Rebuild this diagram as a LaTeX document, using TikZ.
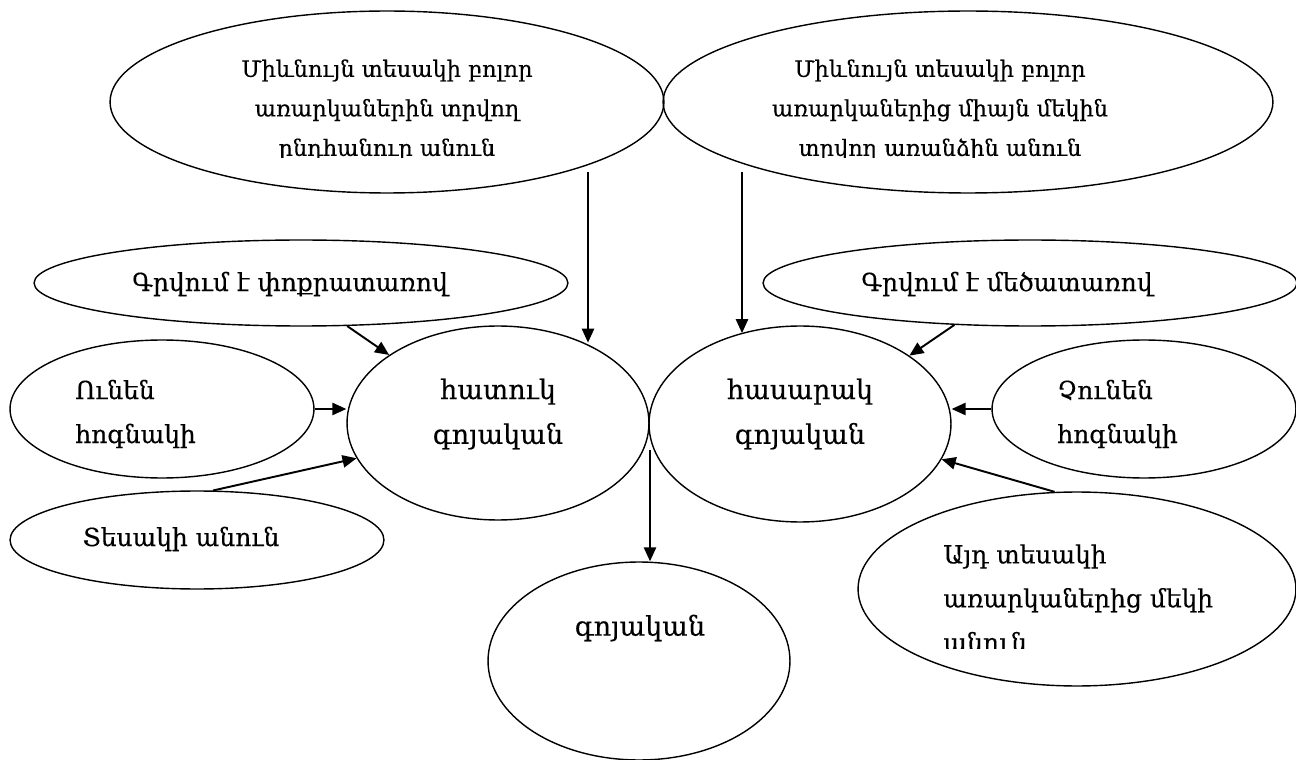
\documentclass[tikz,border=0pt]{standalone}
\usepackage{fontspec}
\setmainfont[FakeBold=0.3]{DejaVu Serif}
\usetikzlibrary{shapes.geometric,arrows.meta}
\begin{document}
\begin{tikzpicture}[x=0.02cm,y=-0.02cm,
  ell/.style={draw, ellipse, line width=0.8pt, inner sep=0pt},
  txttop/.style={inner sep=0pt, font=\fontsize{12.8}{22.5}\selectfont},
  txt/.style={inner sep=0pt, font=\fontsize{14.2}{25}\selectfont},
  txtbig/.style={inner sep=0pt, font=\fontsize{15.4}{25.5}\selectfont},
  arr/.style={-{Triangle[length=8pt,width=7pt]}, line width=1.1pt}]
\useasboundingbox (0,0) rectangle (1296,760);
% ellipses
\node[ell, minimum width=11.08cm, minimum height=3.64cm] (e1) at (387,102) {};
\node[ell, minimum width=12.2cm, minimum height=3.64cm] (e2) at (968,102) {};
\node[ell, minimum width=10.68cm, minimum height=1.72cm] (small1) at (301,283) {};
\node[ell, minimum width=10.68cm, minimum height=1.72cm] (small2) at (1030,283) {};
\node[ell, minimum width=6.04cm, minimum height=3.88cm] (hatuk) at (498,423) {};
\node[ell, minimum width=6.04cm, minimum height=3.92cm] (hasarak) at (800,424) {};
\node[ell, minimum width=6.08cm, minimum height=2.76cm] (unen) at (162,409) {};
\node[ell, minimum width=7.48cm, minimum height=1.96cm] (tesak) at (197,540) {};
\node[ell, minimum width=6.08cm, minimum height=2.76cm] (chunen) at (1144,409) {};
\node[ell, minimum width=8.76cm, minimum height=3.88cm] (ayd) at (1077,589) {};
\node[ell, minimum width=6.04cm, minimum height=3.96cm] (goyakan) at (639,661) {};
% texts
\begin{scope}
\clip (110,0) rectangle (663,158);
\node[txttop, align=center] (t1) at (387,110) {Միևնույն տեսակի բոլոր\\առարկաներին տրվող\\ընդհանուր անուն};
\end{scope}
\begin{scope}
\clip (663,0) rectangle (1274,158);
\node[txttop, align=center] (t2) at (940,110) {Միևնույն տեսակի բոլոր\\առարկաներից միայն մեկին\\տրվող առանձին անուն};
\end{scope}
\node[txt] (t3) at (290,284) {Գրվում է փոքրատառով};
\node[txt] (t4) at (1007,284) {Գրվում է մեծատառով};
\node[txtbig, align=center] (t5) at (498,414) {հատուկ\\գոյական};
\node[txtbig, align=center] (t6) at (800,414) {հասարակ\\գոյական};
\node[txt, align=left, anchor=west] (t7) at (75,414) {Ունեն\\հոգնակի};
\node[txt, align=left, anchor=west] (t8) at (1057,414) {Չունեն\\հոգնակի};
\node[txt] (t9) at (181,539) {Տեսակի անուն};
\begin{scope}
\clip (858,500) rectangle (1296,648);
\node[txt, align=left, anchor=west] (t10) at (943,598) {Այդ տեսակի\\առարկաներից մեկի\\անուն};
\end{scope}
\node[txtbig] (t11) at (640,628) {գոյական};
% connectors
\coordinate (c1) at (588,172);
\coordinate (c2) at (742,172);
\coordinate (c3) at (650,450);
\draw[arr] (c1) -- (c1 |- hatuk.43);
\draw[arr] (c2) -- (c2 |- hasarak.123);
\draw[arr] (small1.-43) -- (hatuk.148);
\draw[arr] (small2.-151) -- (hasarak.32);
\draw[arr] (unen.east) -- (unen.east -| hatuk.west);
\draw[arr] (chunen.west) -- (chunen.west -| hasarak.east);
\draw[arr] (tesak.72) -- (hatuk.194);
\draw[arr] (ayd.103) -- (hasarak.-14);
\draw[arr] (c3) -- (c3 |- goyakan.north);
\end{tikzpicture}
\end{document}
